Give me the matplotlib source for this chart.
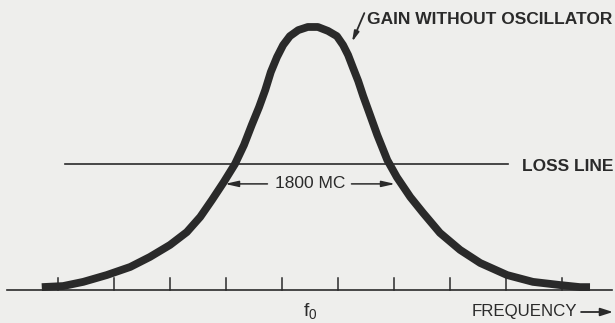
import matplotlib
matplotlib.use('Agg')
import matplotlib.pyplot as plt

# frequency offset from f0 in tick spacings, gain in arbitrary units (axis = 0)
freq = [-4.79, -4.41, -4.05, -3.63, -3.21, -2.86, -2.50, -2.20, -1.96, -1.75,
        -1.54, -1.34, -1.18, -1.04, -0.91, -0.80, -0.70, -0.59, -0.48, -0.36,
        -0.21, -0.04, 0.14, 0.32, 0.48, 0.59, 0.68, 0.77, 0.86, 0.95,
        1.04, 1.20, 1.38, 1.55, 1.79, 2.02, 2.32, 2.68, 3.04, 3.52,
        3.98, 4.46, 4.82, 5.00]
gain = [0.11, 0.15, 0.31, 0.57, 0.88, 1.26, 1.72, 2.21, 2.79, 3.44,
        4.12, 4.81, 5.53, 6.30, 6.98, 7.63, 8.32, 8.89, 9.35, 9.69,
        9.92, 10.04, 10.04, 9.89, 9.69, 9.35, 8.97, 8.47, 7.98, 7.40,
        6.87, 5.92, 4.96, 4.31, 3.55, 2.94, 2.18, 1.53, 1.03, 0.57,
        0.31, 0.19, 0.11, 0.11]
tick_pos = [-4.5, -3.5, -2.5, -1.5, -0.5, 0.5, 1.5, 2.5, 3.5, 4.5]
loss_level = 4.81
loss_span = (-4.38, 3.54)
bw_edges = (-1.52, 1.52)
bw_label = '1800 MC'

BG = '#eeeeec'
INK = '#2a2a2a'
FONT = ['Liberation Sans', 'DejaVu Sans']

fig = plt.figure(figsize=(6.15, 3.23), dpi=100, facecolor=BG)
ax = fig.add_axes([0, 0, 1, 1])
ax.set_facecolor(BG)
ax.set_xlim(-5.536, 5.446)
ax.set_ylim(-1.26, 11.07)
ax.axis('off')

# frequency axis with ticks
ax.plot([-5.41, 5.39], [0, 0], color=INK, lw=1.2)
for t in tick_pos:
    ax.plot([t, t], [0, 0.46], color=INK, lw=1.1)

# loss line
ax.plot(loss_span, [loss_level, loss_level], color=INK, lw=1.2)

# gain curve
ax.plot(freq, gain, color=INK, lw=5.6, solid_capstyle='butt', solid_joinstyle='round')

# bandwidth marker
ax.text(0, 4.05, bw_label, ha='center', va='center', fontsize=12.5, family=FONT, color=INK)
arrow_bw = dict(arrowstyle='-|>,head_length=0.8,head_width=0.18', color=INK, lw=1.1,
                shrinkA=0, shrinkB=0)
ax.annotate('', xy=(bw_edges[0], 4.05), xytext=(-0.76, 4.05), arrowprops=arrow_bw)
ax.annotate('', xy=(bw_edges[1], 4.05), xytext=(0.74, 4.05), arrowprops=arrow_bw)

ax.text(3.79, 4.73, 'LOSS LINE', ha='left', va='center', fontsize=12.5,
        fontweight='bold', family=FONT, color=INK)

ax.text(1.01, 10.31, 'GAIN WITHOUT OSCILLATOR', ha='left', va='center', fontsize=12.5,
        fontweight='bold', family=FONT, color=INK)
ax.annotate('', xy=(0.75, 9.47), xytext=(0.97, 10.57),
            arrowprops=dict(arrowstyle='-|>,head_length=0.6,head_width=0.15', color=INK, lw=1.3,
                            shrinkA=0, shrinkB=0))

ax.text(0, -0.8, r'$\mathregular{f_0}$', ha='center', va='center', fontsize=14,
        family=FONT, color=INK)
ax.text(2.89, -0.84, 'FREQUENCY', ha='left', va='center', fontsize=12.2,
        family=FONT, color=INK)
ax.annotate('', xy=(5.41, -0.84), xytext=(4.84, -0.84),
            arrowprops=dict(arrowstyle='-|>,head_length=0.75,head_width=0.24', color=INK, lw=1.3,
                            shrinkA=0, shrinkB=0))

fig.savefig('out.png', dpi=100, facecolor=BG)
